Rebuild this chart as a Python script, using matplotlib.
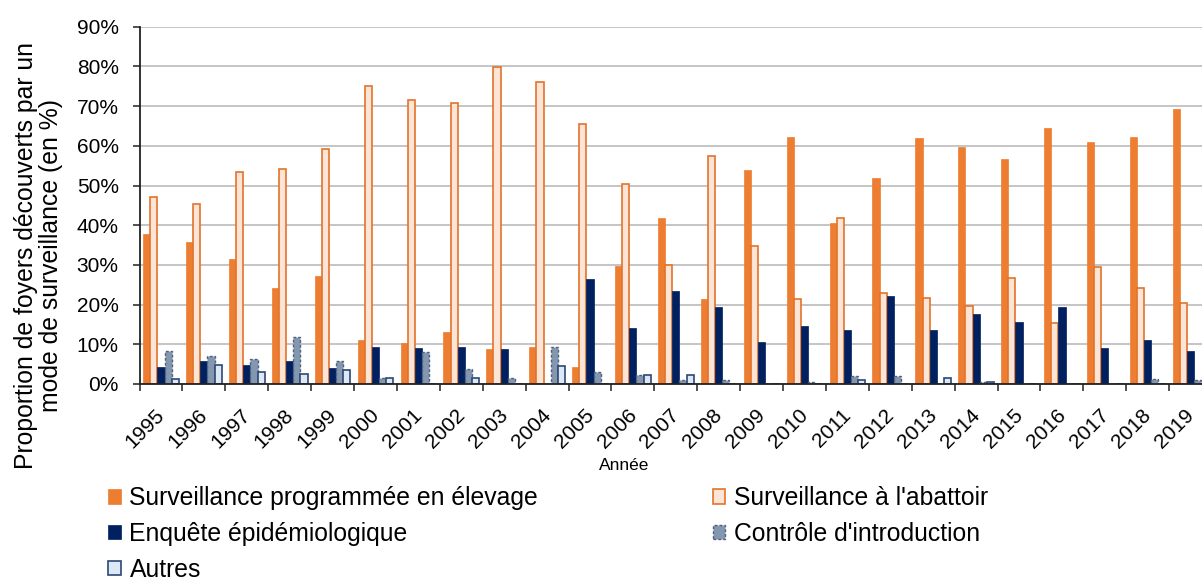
import numpy as np
import matplotlib.pyplot as plt
from matplotlib.ticker import FuncFormatter
from matplotlib.transforms import ScaledTranslation

plt.rcParams['font.family'] = ['Liberation Sans', 'DejaVu Sans']

# Values (percent)
years = [str(y) for y in range(1995, 2020)]
prog = [37.8, 35.8, 31.4, 24.1, 27.1, 11.1, 10.4, 13.0, 8.7, 9.4, 4.4, 29.7, 41.7,
        21.4, 53.8, 62.3, 40.5, 51.8, 61.9, 59.8, 56.8, 64.6, 60.9, 62.2, 69.3]
abattoir = [47.0, 45.4, 53.4, 54.1, 59.1, 75.1, 71.5, 70.9, 79.8, 76.2, 65.5, 50.5, 30.1,
            57.5, 34.7, 21.3, 41.7, 23.0, 21.7, 19.6, 26.7, 15.4, 29.4, 24.3, 20.3]
enquete = [4.4, 5.7, 4.7, 5.7, 4.0, 9.4, 9.0, 9.4, 8.7, 0.0, 26.4, 14.0, 23.4,
           19.5, 10.7, 14.7, 13.7, 22.1, 13.7, 17.7, 15.7, 19.4, 9.0, 11.0, 8.4]
controle = [8.3, 7.0, 6.3, 11.9, 5.7, 1.6, 8.0, 3.7, 1.6, 9.4, 2.9, 2.3, 0.9,
            0.9, 0.0, 0.6, 1.9, 1.9, 0.0, 0.6, 0.0, 0.0, 0.0, 1.3, 0.9]
autres = [1.3, 4.9, 2.9, 2.6, 3.4, 1.6, 0.0, 1.6, 0.0, 4.6, 0.0, 2.3, 2.3,
          0.0, 0.0, 0.0, 0.9, 0.0, 1.6, 0.6, 0.0, 0.0, 0.0, 0.0, 0.0]

labels = ["Surveillance programmée en élevage", "Surveillance à l'abattoir",
          "Enquête épidémiologique", "Contrôle d'introduction", "Autres"]

fig = plt.figure(figsize=(12.02, 5.81), dpi=100)
# the original chart is cut off on the right, so the axes run past the figure edge
ax = fig.add_axes([0.1161, 0.3391, 0.8923, 0.6149])

x = np.arange(len(years))
w = 1 / 6
bars = []
bars.append(ax.bar(x - 2 * w, prog, w, color='#ED7D31', edgecolor='#ED7D31', linewidth=0.5))
bars.append(ax.bar(x - w, abattoir, w, color='#FCE4D6', edgecolor='#E2742A', linewidth=1.2))
bars.append(ax.bar(x, enquete, w, color='#002060', edgecolor='#002060', linewidth=0.5))
bars.append(ax.bar(x + w, controle, w, color='#8497B0', edgecolor='#4E617D',
                   linewidth=1.0, linestyle=(0, (2, 1.5))))
bars.append(ax.bar(x + 2 * w, autres, w, color='#DDE8F6', edgecolor='#2E4773', linewidth=1.2))

ax.set_xlim(-0.5, len(years) - 0.5)
ax.set_ylim(0, 90)
ax.set_yticks(np.arange(0, 91, 10))
ax.yaxis.set_major_formatter(FuncFormatter(lambda v, p: f'{v:.0f}%'))
ax.grid(axis='y', color='#C0C0C0', linewidth=1.3)
ax.set_axisbelow(True)

ax.set_xticks(x)
ax.set_xticklabels(years, rotation=45, ha='right', rotation_mode='anchor')
ax.set_xticks(np.arange(-0.5, len(years), 1), minor=True)
ax.tick_params(axis='x', which='major', length=0, labelsize=15, pad=9)
ax.tick_params(axis='x', which='minor', length=5, width=1.2, color='#333333')
ax.tick_params(axis='y', length=5, width=1.2, labelsize=15, pad=10, color='#333333')
shift = ScaledTranslation(-6 / 100, -9 / 100, fig.dpi_scale_trans)
for t in ax.get_xticklabels():
    t.set_transform(t.get_transform() + shift)

for s in ['top', 'right']:
    ax.spines[s].set_visible(False)
for s in ['left', 'bottom']:
    ax.spines[s].set_linewidth(1.3)
    ax.spines[s].set_color('#222222')

fig.text(0.032, 0.561, 'Proportion de foyers découverts par un\nmode de surveillance (en %)',
         rotation=90, ha='center', va='center', fontsize=17.8, multialignment='center',
         linespacing=1.05)
fig.text(0.519, 0.198, 'Année', ha='center', va='center', fontsize=12.5)

order = [0, 2, 4, 1, 3]
fig.legend([bars[i] for i in order], [labels[i] for i in order],
           loc='upper left', bbox_to_anchor=(0.082, 0.18), ncol=2, frameon=False,
           fontsize=17.8, handlelength=0.5, handleheight=0.5, handletextpad=0.35,
           columnspacing=7.05, labelspacing=0.48, borderaxespad=0)

fig.savefig('out.png', dpi=100)
